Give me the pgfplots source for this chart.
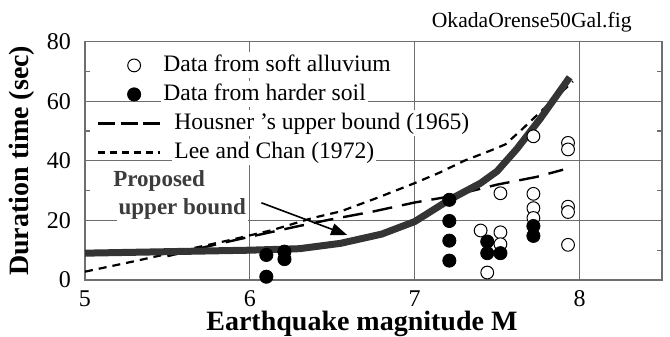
\documentclass[border=0pt]{standalone}
\usepackage{fontspec}
\setmainfont{Liberation Serif}
\usepackage{pgfplots}
\pgfplotsset{compat=1.18}
\usepackage{pgfplotstable}
\usetikzlibrary{arrows.meta}
\definecolor{axgray}{RGB}{110,110,110}
\definecolor{propgray}{RGB}{52,52,52}
\definecolor{txtgray}{RGB}{60,60,60}

\pgfplotsset{
  markleg/.style={legend image code/.code={\draw[draw=none] (0pt,0pt) -- (31pt,0pt);\draw[##1, only marks] plot coordinates {(18pt,0pt)};}},
  lineleg/.style={legend image code/.code={\draw[##1] (0pt,0pt) -- (31pt,0pt);}},
}

\pgfplotstableread{
x y
7.40 16.6
7.44 2.5
7.52 29.1
7.52 16.0
7.52 12.0
7.72 48.2
7.72 28.9
7.72 24.1
7.72 20.8
7.93 46.0
7.93 43.8
7.93 24.6
7.93 22.8
7.93 11.8
}\soft

\pgfplotstableread{
x y
6.10 8.4
6.10 1.1
6.21 9.5
6.21 7.0
7.21 26.9
7.21 19.8
7.21 13.2
7.21 6.5
7.44 12.9
7.44 9.0
7.52 9.0
7.72 18.1
7.72 14.8
}\hard

\pgfplotstableread{
x y
5.00 9.0
5.50 9.5
6.00 10.0
6.30 10.5
6.55 12.3
6.80 15.4
7.00 19.6
7.21 26.9
7.40 32.5
7.50 36.5
7.62 44.0
7.76 54.0
7.94 68.0
}\proposed

\pgfplotstableread{
x y
5.50 8.0
5.80 12.0
6.00 14.5
6.28 17.9
6.48 20.2
6.75 23.0
7.00 26.0
7.21 28.0
7.50 32.0
7.74 34.6
7.90 37.0
}\housner

\pgfplotstableread{
x y
5.00 2.8
5.30 6.3
5.70 11.2
5.88 13.4
6.14 16.8
6.38 20.8
6.55 23.0
6.77 27.5
7.00 32.5
7.15 36.0
7.30 40.0
7.45 43.2
7.55 45.5
7.65 50.5
7.78 57.3
7.96 66.6
}\leechan

\begin{document}
\begin{tikzpicture}
\begin{axis}[
  at={(0,0)}, anchor=south west,
  scale only axis, width=288.5pt, height=119.25pt,
  xmin=5, xmax=8.5, ymin=0, ymax=80,
  xtick={5,6,7,8}, ytick={0,20,40,60,80}, minor ytick={10,30,50,70},
  xmajorgrids, ymajorgrids,
  grid style={axgray, line width=0.6pt},
  axis line style={axgray, line width=0.6pt},
  every tick/.style={axgray, line width=0.6pt},
  major tick length=0pt, minor tick length=2.5pt,
  tick align=inside, xtick pos=bottom, ytick pos=both,
  /pgf/number format/assume math mode=true,
  ticklabel style={font=\fontsize{12}{14}\selectfont, text=black},
  yticklabel style={xshift=-3.5pt}, xticklabel style={inner sep=0.5pt, yshift=-4.5pt},
  xlabel={Earthquake magnitude M}, ylabel={Duration time (sec)},
  label style={font=\bfseries\fontsize{14}{16}\selectfont, inner sep=0.5pt},
  xlabel style={at={(axis description cs:0.48,-0.185)}, anchor=center},
  ylabel style={at={(axis description cs:-0.109,0.5)}, anchor=center},
  legend style={at={(axis description cs:0.02,0.956)}, anchor=north west,
    draw=none, fill=none, inner sep=0pt, row sep=1.5pt, column sep=0pt,
    font=\fontsize{11.8}{13}\selectfont,
    nodes={inner sep=1pt, text height=8.5pt, text depth=2.5pt}},
  legend cell align=left,
]
\addlegendimage{only marks, mark=*, mark size=3.2pt, mark options={fill=white, draw=black, line width=0.5pt}, markleg}
\addlegendentry[fill=white, xshift=-8pt]{Data from soft alluvium}
\addlegendimage{only marks, mark=*, mark size=3.3pt, mark options={fill=black, draw=black}, markleg}
\addlegendentry[fill=white, xshift=-8pt]{Data from harder soil}
\addlegendimage{black, line width=1.2pt, dash pattern=on 8.5pt off 2.8pt, lineleg}
\addlegendentry[fill=white, xshift=-2.5pt]{Housner 's upper bound (1965)}
\addlegendimage{black, line width=1.1pt, dash pattern=on 3.5pt off 2.5pt, lineleg}
\addlegendentry[fill=white, xshift=-2.5pt]{Lee and Chan (1972)}

\addplot[forget plot, black, line width=1.2pt, dash pattern=on 10pt off 5pt] table {\housner};
\addplot[forget plot, black, line width=1.1pt, dash pattern=on 4pt off 3pt] table {\leechan};
\addplot[forget plot, propgray, line width=3.5pt] table {\proposed};
\addplot[forget plot, only marks, mark=*, mark size=3.2pt, mark options={fill=white, draw=black, line width=0.5pt}] table {\soft};
\addplot[forget plot, only marks, mark=*, mark size=3.3pt, mark options={fill=black, draw=black}] table {\hard};

\node[font=\bfseries\fontsize{11.5}{13}\selectfont, text=txtgray, fill=white, inner sep=1pt] at (axis cs:5.45,33.3) {Proposed};
\node[font=\bfseries\fontsize{11.5}{13}\selectfont, text=txtgray, fill=white, inner sep=1pt] at (axis cs:5.59,23.9) {upper bound};
\draw[black, line width=0.8pt, -{Triangle[length=8pt,width=6pt]}] (axis cs:6.07,25.9) -- (axis cs:6.59,15.1);
\end{axis}
\node[anchor=base east, font=\fontsize{10.8}{12}\selectfont, inner sep=0pt] at (273.5pt,126pt) {OkadaOrense50Gal.fig};
\pgfresetboundingbox
\useasboundingbox (-42.5pt,-28.5pt) rectangle (292.5pt,140pt);
\end{tikzpicture}
\end{document}
